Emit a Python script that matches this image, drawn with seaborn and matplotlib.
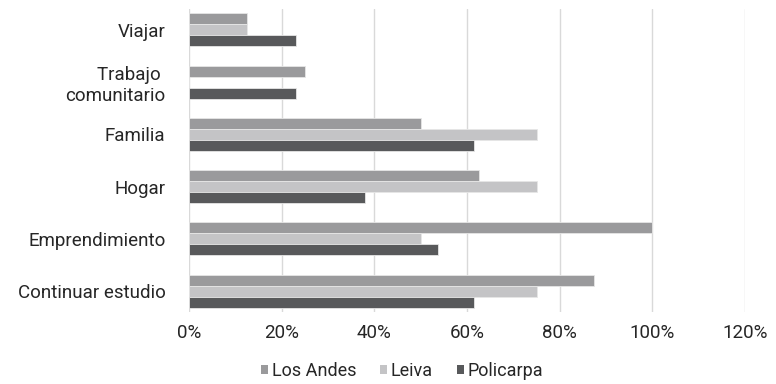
import matplotlib
matplotlib.use("Agg")
import matplotlib.pyplot as plt
import seaborn as sns
import pandas as pd
from matplotlib.ticker import PercentFormatter
from matplotlib.patches import Patch

# Categories (top to bottom) and share of respondents per municipality
categorias = ["Viajar", "Trabajo \ncomunitario", "Familia", "Hogar",
              "Emprendimiento", "Continuar estudio"]
los_andes = [12.5, 25.0, 50.0, 62.5, 100.0, 87.5]
leiva = [12.5, 0.0, 75.0, 75.0, 50.0, 75.0]
policarpa = [23.1, 23.1, 61.5, 37.9, 53.8, 61.5]
series = ["Los Andes", "Leiva", "Policarpa"]
colores = ["#9a9a9c", "#c4c4c6", "#58595b"]
ticks = [0, 20, 40, 60, 80, 100, 120]

df = pd.DataFrame({
    "categoria": categorias * 3,
    "valor": los_andes + leiva + policarpa,
    "serie": [s for s in series for _ in categorias],
})

sns.set_style("white")
plt.rcParams["font.family"] = ["Roboto", "DejaVu Sans"]

fig = plt.figure(figsize=(7.76, 3.84), dpi=100)
ax = fig.add_axes([189 / 776, 1 - 312 / 384, (745 - 189) / 776, (312 - 9) / 384])

sns.barplot(data=df, y="categoria", x="valor", hue="serie", order=categorias,
            hue_order=series, palette=colores, orient="h", width=0.63,
            edgecolor="#e6e6e6", linewidth=0.6, ax=ax, legend=False)

ax.set_xlim(0, 120)
ax.set_ylim(5.4, -0.4)
ax.set_xticks(ticks)
ax.xaxis.set_major_formatter(PercentFormatter(decimals=0))
ax.grid(axis="x", color="#d9d9d9", linewidth=1)
ax.set_axisbelow(True)
for s in ax.spines.values():
    s.set_visible(False)
ax.set_xlabel("")
ax.set_ylabel("")
ax.tick_params(axis="both", length=0, labelsize=13.5, colors="#262626")
ax.tick_params(axis="x", pad=9)
ax.tick_params(axis="y", pad=17)
for lbl in ax.get_yticklabels():
    lbl.set_multialignment("right")

handles = [Patch(facecolor=c, edgecolor="none", label=s) for s, c in zip(series, colores)]
fig.legend(handles=handles, loc="center", bbox_to_anchor=(402 / 776, 1 - 371 / 384),
           ncol=3, frameon=False, fontsize=13, handlelength=0.42,
           handleheight=0.42, handletextpad=0.2, columnspacing=1.3,
           labelcolor="#262626")

fig.savefig("out.png", dpi=100)
